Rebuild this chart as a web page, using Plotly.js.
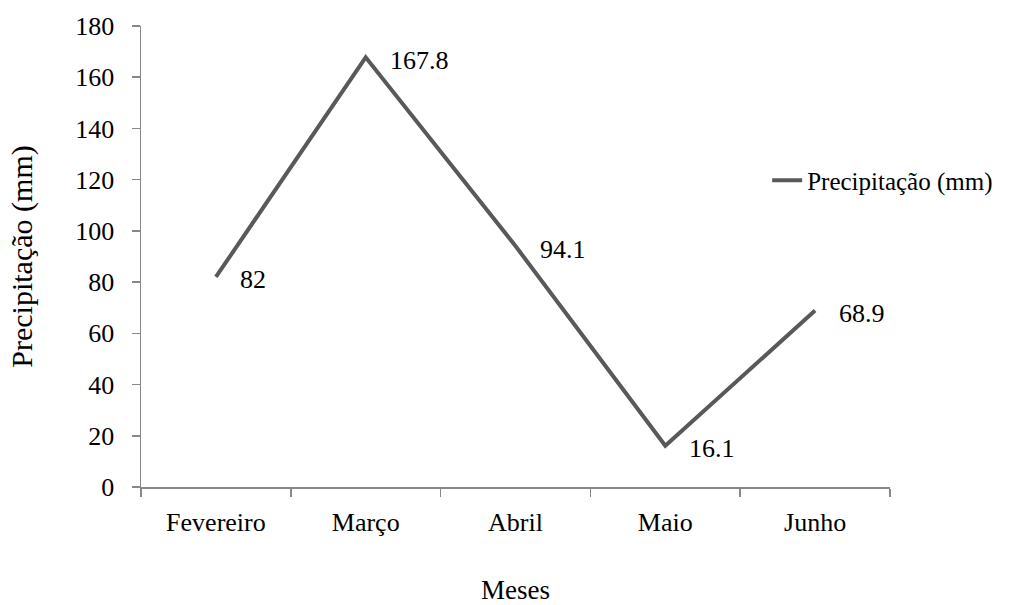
<!DOCTYPE html>
<html>
<head>
<meta charset="utf-8">
<script src="https://cdn.plot.ly/plotly-3.0.1.min.js"></script>
<style>html,body{margin:0;padding:0;background:#fff;}#chart{width:1011px;height:605px;}</style>
</head>
<body>
<div id="chart"></div>
<script>
const months = ["Fevereiro", "Março", "Abril", "Maio", "Junho"];
const precipitation = [82, 167.8, 94.1, 16.1, 68.9];
const seriesName = "Precipitação (mm)";
const yTickValues = [0, 20, 40, 60, 80, 100, 120, 140, 160, 180];

const FONT = "Liberation Serif";

const trace = {
  x: months,
  y: precipitation,
  type: "scatter",
  mode: "lines",
  name: seriesName,
  line: {color: "#595959", width: 4},
  hoverinfo: "x+y"
};

const annotations = months.map((m, i) => ({
  x: m,
  y: precipitation[i],
  xref: "x",
  yref: "y",
  text: String(precipitation[i]),
  showarrow: false,
  xanchor: "left",
  yanchor: "middle",
  xshift: 22,
  yshift: -3,
  font: {family: FONT, size: 26, color: "#000"}
}));

const layout = {
  width: 1011,
  height: 605,
  margin: {l: 141, r: 121, t: 26, b: 118},
  paper_bgcolor: "#fff",
  plot_bgcolor: "#fff",
  font: {family: FONT, size: 26, color: "#000"},
  showlegend: true,
  legend: {
    x: 0.836, y: 0.665, xanchor: "left", yanchor: "middle",
    bgcolor: "rgba(0,0,0,0)",
    font: {family: FONT, size: 25, color: "#000"}
  },
  xaxis: {
    type: "category",
    range: [-0.5, 4.5],
    showline: true, linecolor: "#888", linewidth: 1.5,
    ticks: "outside", tickson: "boundaries", ticklen: 8, tickcolor: "#888", tickwidth: 1.5,
    showgrid: false, zeroline: false,
    ticklabelstandoff: 11,
    tickfont: {family: FONT, size: 26, color: "#000"},
    title: {text: "Meses", font: {family: FONT, size: 27, color: "#000"}, standoff: 58},
    automargin: false
  },
  yaxis: {
    range: [0, 180],
    tickvals: yTickValues,
    showline: true, linecolor: "#888", linewidth: 1.5,
    ticks: "outside", ticklen: 8, tickcolor: "#888", tickwidth: 1.5,
    showgrid: false, zeroline: false,
    ticklabelstandoff: 12,
    tickfont: {family: FONT, size: 26, color: "#000"},
    title: {text: "Precipitação (mm)", font: {family: FONT, size: 30, color: "#000"}, standoff: 34},
    automargin: false
  },
  annotations: annotations
};

Plotly.newPlot("chart", [trace], layout, {displayModeBar: false, staticPlot: true});
</script>
</body>
</html>
